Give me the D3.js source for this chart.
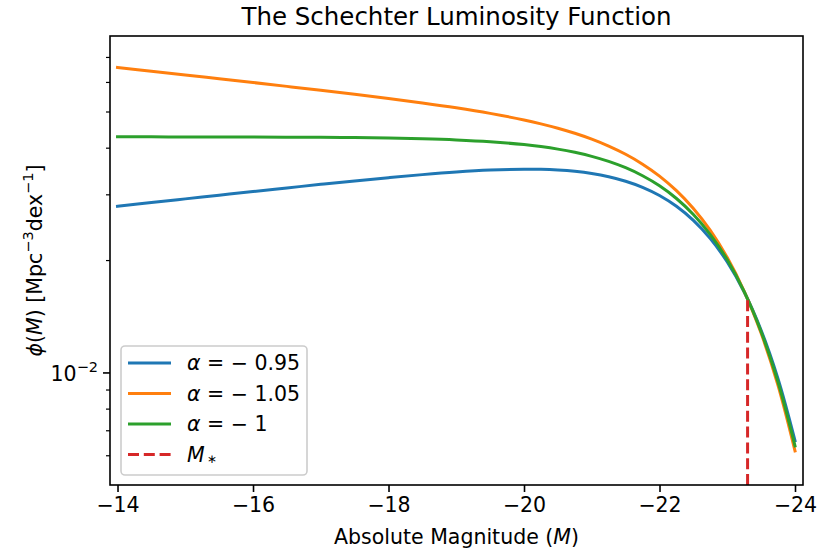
<!DOCTYPE html>
<html>
<head>
<meta charset="utf-8">
<script src="https://cdn.jsdelivr.net/npm/d3@7/dist/d3.min.js"></script>
<style>
  body { margin: 0; background: #fff; }
  svg { display: block; font-family: "DejaVu Sans", sans-serif; }
</style>
</head>
<body>
<svg id="chart" width="817" height="553"></svg>
<script>
// Absolute magnitudes sampled along the curves
const magnitudes = [-14, -14.5, -15, -15.5, -16, -16.5, -17, -17.5, -18, -18.5, -19, -19.5, -20,
  -20.25, -20.5, -20.75, -21, -21.25, -21.5, -21.75, -22, -22.25, -22.5, -22.75, -23, -23.25,
  -23.5, -23.75, -24];

// phi(M) in Mpc^-3 dex^-1 for each faint-end slope
const phiAlpha095 = [0.02795, 0.02860, 0.02926, 0.02993, 0.03062, 0.03130, 0.03200, 0.03269,
  0.03335, 0.03398, 0.03453, 0.03494, 0.03513, 0.03510, 0.03495, 0.03467, 0.03422, 0.03355,
  0.03263, 0.03143, 0.02988, 0.02795, 0.02562, 0.02290, 0.01982, 0.01647, 0.01301, 0.00964, 0.00659];
const phiAlpha105 = [0.06582, 0.06432, 0.06284, 0.06139, 0.05997, 0.05856, 0.05717, 0.05577,
  0.05434, 0.05287, 0.05131, 0.04958, 0.04761, 0.04648, 0.04524, 0.04385, 0.04229, 0.04052,
  0.03852, 0.03625, 0.03368, 0.03078, 0.02758, 0.02409, 0.02037, 0.01655, 0.01277, 0.00925, 0.00618];
const phiAlpha100 = [0.04289, 0.04289, 0.04288, 0.04287, 0.04285, 0.04282, 0.04277, 0.04270,
  0.04258, 0.04239, 0.04209, 0.04162, 0.04089, 0.04039, 0.03977, 0.03899, 0.03804, 0.03687,
  0.03546, 0.03375, 0.03172, 0.02933, 0.02658, 0.02348, 0.02009, 0.01651, 0.01289, 0.00944, 0.00638];

// Characteristic magnitude and the function's value there
const mStar = -23.3;
const phiAtMStar = 0.01578;

const xTicks = [-14, -16, -18, -20, -22, -24];
const yMajorTicks = [0.01];
const yMinorTicks = [0.006, 0.007, 0.008, 0.009, 0.02, 0.03, 0.04, 0.05, 0.06, 0.07];

const seriesColors = ["#1f77b4", "#ff7f0e", "#2ca02c"];
const seriesValues = [phiAlpha095, phiAlpha105, phiAlpha100];
const seriesAlpha = ["0.95", "1.05", "1"];

const svg = d3.select("#chart");
const plot = { left: 110, right: 803, top: 36, bottom: 485 };
const fs = 20.5;      // base font size
const fsSmall = 14.5; // super/subscripts
const lw = 3;         // curve width

const x = d3.scaleLinear().domain([-13.889, -24.118]).range([plot.left, plot.right]);
const y = d3.scaleLog().domain([0.00501, 0.0799]).range([plot.bottom, plot.top]);

svg.append("defs").append("clipPath").attr("id", "plotArea")
  .append("rect").attr("x", plot.left).attr("y", plot.top)
  .attr("width", plot.right - plot.left).attr("height", plot.bottom - plot.top);

const line = d3.line()
  .x((d, i) => x(magnitudes[i]))
  .y(d => y(d))
  .curve(d3.curveCatmullRom.alpha(0.5));

const curves = svg.append("g").attr("clip-path", "url(#plotArea)");
seriesValues.forEach((vals, k) => {
  curves.append("path")
    .attr("d", line(vals))
    .attr("fill", "none")
    .attr("stroke", seriesColors[k])
    .attr("stroke-width", lw)
    .attr("stroke-linejoin", "round")
    .attr("stroke-linecap", "square");
});

// Dashed marker at M*
curves.append("line")
  .attr("x1", x(mStar)).attr("x2", x(mStar))
  .attr("y1", y(y.domain()[0])).attr("y2", y(phiAtMStar))
  .attr("stroke", "#d62728").attr("stroke-width", lw)
  .attr("stroke-dasharray", "11,4.8");

// Frame
svg.append("rect")
  .attr("x", plot.left).attr("y", plot.top)
  .attr("width", plot.right - plot.left).attr("height", plot.bottom - plot.top)
  .attr("fill", "none").attr("stroke", "#000").attr("stroke-width", 1.6);

// X axis
const xAxis = d3.axisBottom(x).tickValues(xTicks).tickSize(7).tickPadding(5)
  .tickFormat(d => "\u2212" + Math.abs(d));
const gx = svg.append("g").attr("transform", `translate(0,${plot.bottom})`).call(xAxis);
gx.select(".domain").remove();
gx.selectAll(".tick line").attr("stroke", "#000").attr("stroke-width", 1.6);
gx.selectAll(".tick text").attr("font-size", fs).attr("font-family", "DejaVu Sans").attr("fill", "#000");

// Y axis: one labelled decade plus minor ticks
const gy = svg.append("g");
yMinorTicks.forEach(v => {
  gy.append("line").attr("x1", plot.left - 4).attr("x2", plot.left)
    .attr("y1", y(v)).attr("y2", y(v)).attr("stroke", "#000").attr("stroke-width", 1.2);
});
yMajorTicks.forEach(v => {
  gy.append("line").attr("x1", plot.left - 7).attr("x2", plot.left)
    .attr("y1", y(v)).attr("y2", y(v)).attr("stroke", "#000").attr("stroke-width", 1.6);
  const t = gy.append("text").attr("x", plot.left - 12).attr("y", y(v) + 8)
    .attr("text-anchor", "end").attr("font-size", fs).attr("fill", "#000");
  t.append("tspan").text("10");
  t.append("tspan").attr("dy", -9).attr("font-size", fsSmall).text("\u2212" + Math.round(-Math.log10(v)));
});

// Title and axis labels
svg.append("text").attr("x", (plot.left + plot.right) / 2).attr("y", 25)
  .attr("text-anchor", "middle").attr("font-size", 24.5).attr("fill", "#000")
  .text("The Schechter Luminosity Function");

const xl = svg.append("text").attr("x", (plot.left + plot.right) / 2).attr("y", 544)
  .attr("text-anchor", "middle").attr("font-size", fs).attr("fill", "#000");
xl.append("tspan").text("Absolute Magnitude (");
xl.append("tspan").attr("font-style", "italic").text("M");
xl.append("tspan").text(")");

const yl = svg.append("text")
  .attr("transform", `translate(42,${(plot.top + plot.bottom) / 2}) rotate(-90)`)
  .attr("text-anchor", "middle").attr("font-size", fs).attr("fill", "#000");
yl.append("tspan").attr("font-style", "italic").text("ϕ");
yl.append("tspan").text("(");
yl.append("tspan").attr("font-style", "italic").text("M");
yl.append("tspan").text(") [Mpc");
yl.append("tspan").attr("dy", -9).attr("font-size", fsSmall).text("\u22123");
yl.append("tspan").attr("dy", 9).text("dex");
yl.append("tspan").attr("dy", -9).attr("font-size", fsSmall).text("\u22121");
yl.append("tspan").attr("dy", 9).text("]");

// Legend
const lg = svg.append("g");
lg.append("rect").attr("x", 121).attr("y", 346).attr("width", 186).attr("height", 129)
  .attr("rx", 4).attr("fill", "#fff").attr("fill-opacity", 0.8)
  .attr("stroke", "#cccccc").attr("stroke-width", 1.6);
const rowY = [363, 393.5, 424, 454.5];
seriesAlpha.forEach((a, k) => {
  lg.append("line").attr("x1", 128).attr("x2", 171).attr("y1", rowY[k]).attr("y2", rowY[k])
    .attr("stroke", seriesColors[k]).attr("stroke-width", lw);
  const t = lg.append("text").attr("x", 187).attr("y", rowY[k] + 7)
    .attr("font-size", fs).attr("fill", "#000").attr("xml:space", "preserve");
  t.append("tspan").attr("font-style", "italic").text("α");
  t.append("tspan").text(" = \u2212 " + a);
});
lg.append("line").attr("x1", 128).attr("x2", 171).attr("y1", rowY[3]).attr("y2", rowY[3])
  .attr("stroke", "#d62728").attr("stroke-width", lw).attr("stroke-dasharray", "11,4.8");
const ms = lg.append("text").attr("x", 187).attr("y", rowY[3] + 7)
  .attr("font-size", fs).attr("fill", "#000");
ms.append("tspan").attr("font-style", "italic").text("M");
ms.append("tspan").attr("dx", 2).attr("dy", 1).attr("font-size", 12).text("∗");
</script>
</body>
</html>
